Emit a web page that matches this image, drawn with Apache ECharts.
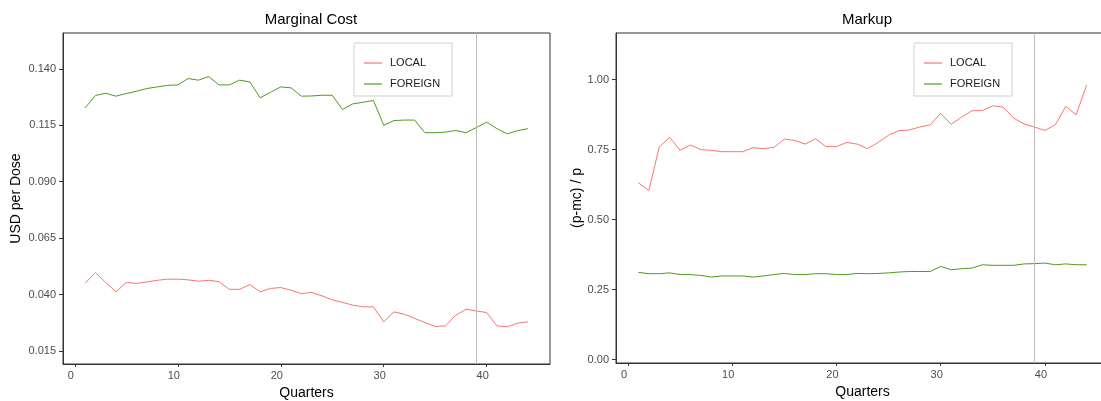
<!DOCTYPE html>
<html>
<head>
<meta charset="utf-8">
<script src="https://cdn.jsdelivr.net/npm/echarts@6/dist/echarts.min.js"></script>
<style>
  html, body { margin: 0; padding: 0; background: #ffffff; overflow: hidden; }
  #chart { width: 1101px; height: 401px; }
</style>
</head>
<body>
<div id="chart"></div>
<script>
// Quarter index shared by both panels
const quarters = [1,2,3,4,5,6,7,8,9,10,11,12,13,14,15,16,17,18,19,20,21,22,
                  23,24,25,26,27,28,29,30,31,32,33,34,35,36,37,38,39,40,41,42,43,44];

// Marginal cost, USD per dose
const mcLocal = [0.0450,0.0497,0.0453,0.0412,0.0453,0.0449,0.0456,0.0463,0.0468,0.0468,
                 0.0465,0.0459,0.0463,0.0457,0.0423,0.0423,0.0444,0.0412,0.0427,0.0431,
                 0.0419,0.0404,0.0409,0.0394,0.0376,0.0365,0.0353,0.0345,0.0345,0.0279,
                 0.0323,0.0313,0.0294,0.0276,0.0258,0.0261,0.0308,0.0335,0.0327,0.0320,
                 0.0261,0.0257,0.0273,0.0279];
const mcForeign = [0.1227,0.1282,0.1292,0.1279,0.1291,0.1301,0.1313,0.1320,0.1327,0.1329,
                   0.1357,0.1350,0.1366,0.1329,0.1329,0.1350,0.1342,0.1272,0.1296,0.1320,
                   0.1316,0.1279,0.1280,0.1283,0.1283,0.1220,0.1245,0.1252,0.1260,0.1150,
                   0.1171,0.1173,0.1173,0.1117,0.1117,0.1120,0.1127,0.1117,0.1140,0.1164,
                   0.1135,0.1112,0.1126,0.1135];

// Markup, (p - mc) / p
const muLocal = [0.632,0.604,0.760,0.794,0.748,0.767,0.750,0.748,0.743,0.743,
                 0.743,0.757,0.754,0.758,0.788,0.783,0.770,0.789,0.761,0.761,
                 0.776,0.770,0.754,0.776,0.802,0.818,0.821,0.831,0.839,0.880,
                 0.841,0.866,0.889,0.890,0.907,0.902,0.863,0.842,0.831,0.819,
                 0.839,0.905,0.875,0.981];
const muForeign = [0.312,0.307,0.307,0.310,0.304,0.304,0.301,0.295,0.299,0.299,
                   0.299,0.295,0.299,0.304,0.308,0.304,0.304,0.307,0.307,0.304,
                   0.304,0.308,0.307,0.308,0.310,0.313,0.315,0.315,0.315,0.333,
                   0.321,0.325,0.327,0.339,0.337,0.337,0.337,0.342,0.343,0.345,
                   0.339,0.342,0.339,0.339];

// Tick labels
const xTicks = [0, 10, 20, 30, 40];
const mcTicks = [0.015, 0.040, 0.065, 0.090, 0.115, 0.140];
const muTicks = [0.00, 0.25, 0.50, 0.75, 1.00];

// Reference quarter marked by the vertical rule
const refQuarter = 39;

const COLOR_LOCAL = '#F8766D';
const COLOR_FOREIGN = '#4E9A1E';
const FONT = '"Liberation Sans", Arial, sans-serif';

function pairs(ys) { return quarters.map((q, i) => [q, ys[i]]); }

function xAxisFor(gridIndex) {
  return {
    type: 'value', gridIndex, min: -1.15, max: 46.15,
    name: 'Quarters', nameLocation: 'middle', nameGap: 21,
    nameTextStyle: { fontFamily: FONT, fontSize: 14, color: '#000' },
    axisLine: { show: true, onZero: false, lineStyle: { color: '#333', width: 1 } },
    axisTick: { show: true, length: 3, customValues: xTicks, lineStyle: { color: '#333' } },
    axisLabel: { customValues: xTicks, margin: 6, fontFamily: FONT, fontSize: 11, color: '#4D4D4D',
                 padding: [0, 8, 0, 0] },
    splitLine: { show: false }
  };
}

function yAxisFor(gridIndex, min, max, ticks, digits, name, nameGap) {
  return {
    type: 'value', gridIndex, min, max,
    name, nameLocation: 'middle', nameGap,
    nameTextStyle: { fontFamily: FONT, fontSize: 14, color: '#000' },
    axisLine: { show: true, onZero: false, lineStyle: { color: '#333', width: 1 } },
    axisTick: { show: true, length: 4, customValues: ticks, lineStyle: { color: '#333' } },
    axisLabel: { customValues: ticks, margin: 7, fontFamily: FONT, fontSize: 11, color: '#4D4D4D',
                 padding: [3, 0, 0, 0], formatter: v => v.toFixed(digits) },
    splitLine: { show: false }
  };
}

function lineSeries(name, ys, color, idx) {
  return {
    name, type: 'line', xAxisIndex: idx, yAxisIndex: idx,
    data: pairs(ys), symbol: 'none', smooth: false, silent: true,
    lineStyle: { color, width: 1 }, itemStyle: { color },
    z: name === 'LOCAL' ? 3 : 4
  };
}

function refLine(idx) {
  return {
    type: 'line', xAxisIndex: idx, yAxisIndex: idx, data: [], silent: true,
    markLine: {
      silent: true, symbol: 'none', label: { show: false },
      lineStyle: { color: '#BEBEBE', width: 1, type: 'solid' },
      data: [{ xAxis: refQuarter }]
    }, z: 1
  };
}

function legendAt(left) {
  return {
    orient: 'vertical', left, top: 43,
    data: [{ name: 'LOCAL', icon: 'rect' }, { name: 'FOREIGN', icon: 'rect' }],
    padding: [13, 12, 5, 10], itemGap: 7,
    itemWidth: 18, itemHeight: 1.2,
    borderColor: '#D0D0D0', borderWidth: 1,
    backgroundColor: '#fff',
    textStyle: { fontFamily: FONT, fontSize: 11, color: '#1A1A1A', lineHeight: 14,
                 padding: [0, 0, 0, 3] },
    selectedMode: false
  };
}

const chart = echarts.init(document.getElementById('chart'), null, { renderer: 'canvas' });
chart.setOption({
  animation: false,
  backgroundColor: '#ffffff',
  title: [
    { text: 'Marginal Cost', left: 306, top: 7, textAlign: 'center',
      textStyle: { fontFamily: FONT, fontSize: 15, fontWeight: 'normal', color: '#000' } },
    { text: 'Markup', left: 862, top: 7, textAlign: 'center',
      textStyle: { fontFamily: FONT, fontSize: 15, fontWeight: 'normal', color: '#000' } }
  ],
  legend: [legendAt(354), legendAt(914)],
  grid: [
    { left: 63, top: 33, width: 487, height: 331, outerBoundsMode: 'none', containLabel: false,
      show: true, borderColor: '#333', borderWidth: 1, backgroundColor: '#fff' },
    { left: 616, top: 33, width: 493, height: 330, outerBoundsMode: 'none', containLabel: false,
      show: true, borderColor: '#333', borderWidth: 1, backgroundColor: '#fff' }
  ],
  xAxis: [xAxisFor(0), xAxisFor(1)],
  yAxis: [
    yAxisFor(0, 0.0092, 0.1559, mcTicks, 3, 'USD per Dose', 40),
    yAxisFor(1, -0.012, 1.167, muTicks, 2, '(p-mc) / p', 28)
  ],
  series: [
    refLine(0),
    lineSeries('LOCAL', mcLocal, COLOR_LOCAL, 0),
    lineSeries('FOREIGN', mcForeign, COLOR_FOREIGN, 0),
    refLine(1),
    lineSeries('LOCAL', muLocal, COLOR_LOCAL, 1),
    lineSeries('FOREIGN', muForeign, COLOR_FOREIGN, 1)
  ]
});
</script>
</body>
</html>
